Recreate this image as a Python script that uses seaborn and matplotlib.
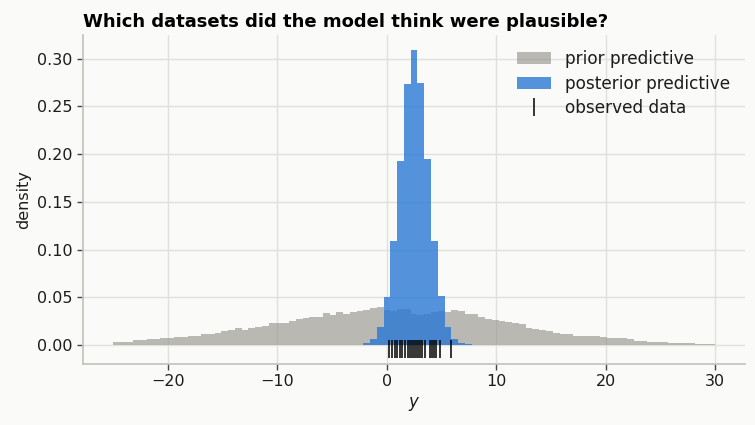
import numpy as np
import pandas as pd
import matplotlib
matplotlib.use("Agg")
import matplotlib.pyplot as plt
import seaborn as sns

# shared bin edges (89 bins from -25 to 30)
edges = np.linspace(-25, 30, 90)
centers = (edges[:-1] + edges[1:]) / 2

# prior predictive density per bin
prior_density = [
    0.0031, 0.0031, 0.0031, 0.0052, 0.0052, 0.0063, 0.0063, 0.0073, 0.0073, 0.0084,
    0.0084, 0.0094, 0.0094, 0.0115, 0.0115, 0.0126, 0.0147, 0.0157, 0.0178, 0.0157,
    0.0178, 0.0189, 0.0199, 0.0231, 0.0231, 0.0231, 0.0252, 0.0273, 0.0283, 0.0294,
    0.0294, 0.0336, 0.0315, 0.0346, 0.0325, 0.0346, 0.0357, 0.0367, 0.0388, 0.0399,
    0.0367, 0.0357, 0.0378, 0.0378, 0.0325, 0.0315, 0.0325, 0.0346, 0.0357, 0.0346,
    0.0367, 0.0357, 0.0325, 0.0325, 0.0294, 0.0273, 0.0262, 0.0252, 0.0241, 0.0231,
    0.0220, 0.0178, 0.0168, 0.0157, 0.0147, 0.0126, 0.0115, 0.0115, 0.0094, 0.0094,
    0.0094, 0.0094, 0.0084, 0.0073, 0.0073, 0.0073, 0.0063, 0.0042, 0.0042, 0.0031,
    0.0031, 0.0031, 0.0021, 0.0021, 0.0021, 0.0021, 0.0010, 0.0010, 0.0010,
]

# posterior predictive density, bins 37..52
post_first_bin = 37
post_density = [
    0.002, 0.006, 0.019, 0.050, 0.109, 0.193, 0.274, 0.309,
    0.275, 0.195, 0.109, 0.051, 0.019, 0.006, 0.002, 0.001,
]

# observed data points
y_obs = [0.22, 0.5, 0.75, 0.95, 1.2, 1.4, 1.65, 1.9, 2.1, 2.3, 2.5, 2.7,
         2.85, 3.05, 3.2, 3.5, 3.95, 4.15, 4.35, 4.5, 4.85, 5.9]

prior_df = pd.DataFrame({"y": centers, "w": prior_density})
post_df = pd.DataFrame({
    "y": centers[post_first_bin:post_first_bin + len(post_density)],
    "w": post_density,
})

bg = "#fafaf8"
ink = "#1c1c1c"
sns.set_theme(style="whitegrid", rc={
    "figure.facecolor": bg, "axes.facecolor": bg,
    "grid.color": "#e0e0dc", "axes.edgecolor": "#c4c4bf",
    "xtick.bottom": True, "ytick.left": True,
    "xtick.color": ink, "ytick.color": ink,
    "text.color": ink, "axes.labelcolor": ink,
})
plt.rcParams["font.family"] = ["DejaVu Sans"]

fig = plt.figure(figsize=(7.55, 4.25), dpi=100)
ax = fig.add_axes([0.110, 0.1435, 0.877, 0.7745])

sns.histplot(data=prior_df, x="y", weights="w", bins=list(edges), stat="count",
             color="#8f8d86", alpha=0.6, linewidth=0, ax=ax, label="prior predictive")
sns.histplot(data=post_df, x="y", weights="w", bins=list(edges), stat="count",
             color="#2a78d6", alpha=0.8, linewidth=0, ax=ax, label="posterior predictive")
ax.plot(y_obs, np.full(len(y_obs), -0.004), linestyle="none", marker="|",
        markersize=13, markeredgewidth=1.3, color="black", alpha=0.85,
        label="observed data")

ax.set_xlim(-27.75, 32.75)
ax.set_ylim(-0.02, 0.325)
ax.set_xticks([-20, -10, 0, 10, 20, 30])
ax.set_yticks([0.0, 0.05, 0.10, 0.15, 0.20, 0.25, 0.30])
ax.yaxis.set_major_formatter(matplotlib.ticker.FormatStrFormatter("%.2f"))
ax.tick_params(labelsize=11.5, length=4, width=1, color="#444444")
ax.set_xlabel("$y$", fontsize=12)
ax.set_ylabel("density", fontsize=11.5)
ax.set_title("Which datasets did the model think were plausible?",
             loc="left", fontsize=13, fontweight="bold", color="black")
sns.despine(ax=ax)

handles, labels = ax.get_legend_handles_labels()
order = ["prior predictive", "posterior predictive", "observed data"]
hmap = dict(zip(labels, handles))
ax.legend([hmap[k] for k in order], order, loc="upper right",
          frameon=False, fontsize=12.2, labelspacing=0.38)

fig.savefig("out.png", dpi=100, facecolor=bg)
